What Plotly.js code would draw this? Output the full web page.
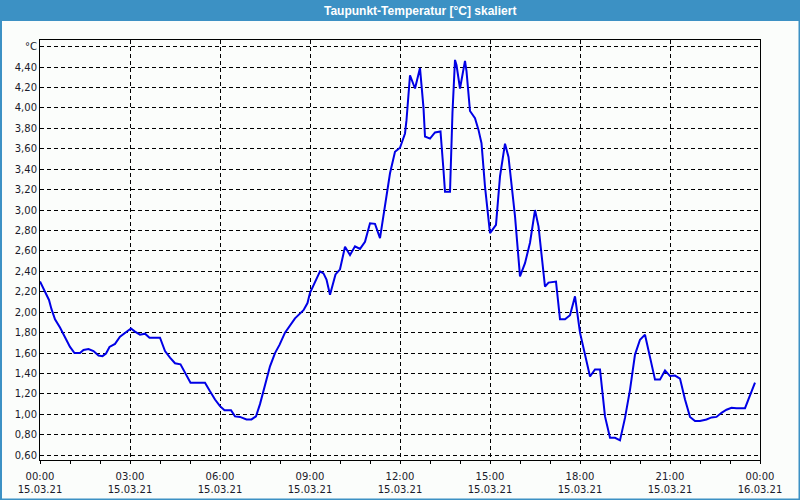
<!DOCTYPE html>
<html>
<head>
<meta charset="utf-8">
<script src="https://cdn.plot.ly/plotly-3.0.1.min.js"></script>
<style>
html,body{margin:0;padding:0;background:#fbfdfb;}
#chart{width:800px;height:500px;}
</style>
</head>
<body>
<div id="chart"></div>
<script>
const day = "2021-03-15";
const times = [
 "00:00","00:10","00:18","00:23","00:30","00:40","00:47",
 "01:00","01:09","01:20","01:27","01:37","01:47","01:57",
 "02:05","02:12","02:19","02:30","02:40","02:50",
 "03:02","03:10","03:20","03:30","03:39",
 "04:00","04:10","04:20","04:30","04:41","04:50",
 "05:01","05:10","05:30","05:40","05:50",
 "06:00","06:09","06:22","06:30","06:40","06:53",
 "07:03","07:12","07:20","07:30","07:40","07:50","07:59",
 "08:10","08:20","08:30","08:47","08:55",
 "09:00","09:10","09:20","09:27","09:33","09:40","09:47","09:51",
 "10:00","10:05","10:10","10:20","10:30","10:40","10:50",
 "11:00","11:10","11:20","11:27","11:33","11:40","11:50",
 "12:00","12:10","12:13","12:20","12:30","12:40","12:47","12:50",
 "13:00","13:10","13:21","13:27","13:30","13:40","13:45","13:50","13:53",
 "14:00","14:10","14:13","14:20","14:30","14:37","14:43","14:50",
 "15:00","15:12","15:20","15:30","15:37","15:43","15:50",
 "16:00","16:10","16:20","16:30","16:37","16:43","16:50","16:57",
 "17:12","17:20","17:30","17:40","17:50",
 "18:00","18:10","18:20","18:30","18:40","18:50",
 "19:00","19:10","19:20","19:30","19:40","19:50",
 "20:00","20:10","20:20","20:30","20:40","20:50",
 "21:00","21:10","21:20","21:30","21:40","21:50",
 "22:00","22:13","22:23","22:33","22:43","22:53",
 "23:03","23:13","23:30","23:40","23:50"
];
const dewpoint = [
 2.30,2.20,2.12,2.03,1.93,1.85,1.78,
 1.66,1.60,1.60,1.63,1.64,1.62,1.575,
 1.57,1.595,1.66,1.69,1.76,1.80,
 1.84,1.81,1.78,1.79,1.75,
 1.75,1.62,1.555,1.50,1.49,1.405,
 1.31,1.31,1.31,1.225,1.145,
 1.08,1.04,1.04,0.98,0.975,0.95,
 0.95,0.98,1.10,1.275,1.47,1.60,1.68,
 1.80,1.87,1.94,2.02,2.09,
 2.19,2.29,2.40,2.38,2.32,2.17,2.30,2.37,
 2.42,2.53,2.64,2.56,2.645,2.62,2.69,
 2.87,2.865,2.725,2.95,3.18,3.36,3.57,
 3.61,3.75,3.88,4.32,4.19,4.39,4.00,3.72,
 3.70,3.76,3.77,3.39,3.18,3.18,3.96,4.47,4.42,
 4.19,4.46,4.36,3.97,3.90,3.785,3.655,3.23,
 2.775,2.855,3.33,3.65,3.52,3.23,2.94,
 2.35,2.48,2.68,3.00,2.84,2.55,2.25,2.29,
 2.30,1.93,1.93,1.97,2.155,
 1.80,1.585,1.37,1.44,1.44,0.98,
 0.77,0.77,0.745,0.965,1.24,1.585,
 1.73,1.78,1.555,1.34,1.34,1.43,
 1.375,1.38,1.35,1.145,0.975,0.935,
 0.935,0.95,0.97,0.975,1.015,1.045,
 1.065,1.06,1.06,1.18,1.31
];
const yTickVals = [0.6,0.8,1.0,1.2,1.4,1.6,1.8,2.0,2.2,2.4,2.6,2.8,3.0,3.2,3.4,3.6,3.8,4.0,4.2,4.4,4.6];
const yTickText = ["0,60","0,80","1,00","1,20","1,40","1,60","1,80","2,00","2,20","2,40","2,60","2,80","3,00","3,20","3,40","3,60","3,80","4,00","4,20","4,40","°C"];
const titleText = "Taupunkt-Temperatur [°C] skaliert";

const x = times.map(t => day + " " + t);
const blue = "#3c91c4";
const bg = "#fbfdfb";

const trace = {
  x: x, y: dewpoint, type: "scatter", mode: "lines",
  line: {color: "#0000e6", width: 2}, hoverinfo: "skip"
};

// paper-coordinate helpers (plot area 40..760 x, 40..460 y)
const px = v => (v - 40) / 720;
const py = v => (460 - v) / 420;

const layout = {
  width: 800, height: 500,
  margin: {l: 40, r: 40, t: 40, b: 40, pad: 0},
  paper_bgcolor: bg, plot_bgcolor: bg,
  showlegend: false,
  font: {family: "DejaVu Sans, sans-serif", size: 10, color: "#1a1a2a"},
  xaxis: {
    type: "date",
    range: ["2021-03-15 00:00", "2021-03-16 00:00"],
    dtick: 3 * 3600000,
    tick0: "2021-03-15 00:00",
    tickformat: "%H:%M<br>%d.%m.%y",
    ticks: "outside", ticklen: 3, tickcolor: "#000", tickwidth: 1,
    ticklabelstandoff: 4,
    minor: {dtick: 3600000, ticks: "outside", ticklen: 3, tickcolor: "#000", tickwidth: 1, showgrid: false},
    showgrid: true, gridcolor: "#000", gridwidth: 1, griddash: "4px,3px",
    showline: true, linecolor: "#000", linewidth: 1, mirror: true,
    zeroline: false, fixedrange: true,
    tickfont: {family: "DejaVu Sans, sans-serif", size: 10, color: "#1a1a2a"}
  },
  yaxis: {
    range: [0.553, 4.665],
    tickvals: yTickVals, ticktext: yTickText,
    ticks: "",
    showgrid: true, gridcolor: "#000", gridwidth: 1, griddash: "4px,3px",
    showline: true, linecolor: "#000", linewidth: 1, mirror: true,
    zeroline: false, fixedrange: true,
    tickfont: {family: "DejaVu Sans, sans-serif", size: 10, color: "#1a1a2a"}
  },
  shapes: [
    {type: "rect", xref: "paper", yref: "paper", x0: px(0), x1: px(800), y0: py(21), y1: py(0), fillcolor: blue, line: {width: 0}},
    {type: "rect", xref: "paper", yref: "paper", x0: px(0), x1: px(2), y0: py(500), y1: py(0), fillcolor: blue, line: {width: 0}},
    {type: "rect", xref: "paper", yref: "paper", x0: px(798.5), x1: px(800), y0: py(500), y1: py(0), fillcolor: blue, line: {width: 0}},
    {type: "rect", xref: "paper", yref: "paper", x0: px(0), x1: px(800), y0: py(500), y1: py(498.5), fillcolor: blue, line: {width: 0}}
  ],
  annotations: [
    {text: "<b>" + titleText + "</b>", xref: "paper", yref: "paper", x: px(420), y: py(10.5),
     xanchor: "center", yanchor: "middle", showarrow: false,
     font: {family: "Liberation Sans, Arial, sans-serif", size: 12, color: "#ffffff"}}
  ]
};

Plotly.newPlot("chart", [trace], layout, {staticPlot: true, displayModeBar: false});
</script>
</body>
</html>
